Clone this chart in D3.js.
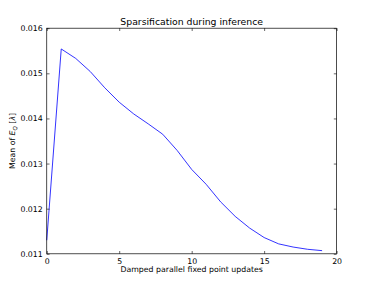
<!DOCTYPE html>
<html>
<head>
<meta charset="utf-8">
<script src="https://cdn.jsdelivr.net/npm/d3@7"></script>
<style>
  body { margin: 0; background: #fff; }
  svg { display: block; font-family: "DejaVu Sans", sans-serif; }
</style>
</head>
<body>
<svg class="container"></svg>
<script>
// values
const steps = [0, 1, 2, 3, 4, 5, 6, 7, 8, 9, 10, 11, 12, 13, 14, 15, 16, 17, 18, 19];
const meanEq = [0.01130, 0.01554, 0.01533, 0.01504, 0.01468, 0.01436, 0.01410, 0.01388, 0.01365,
  0.01329, 0.01287, 0.01254, 0.01215, 0.01183, 0.01157, 0.01136, 0.01122, 0.01115, 0.01110, 0.01107];
const xTicks = [0, 5, 10, 15, 20];
const yTicks = [0.011, 0.012, 0.013, 0.014, 0.015, 0.016];

const w = 374, h = 282;
const margin = { top: 28.2, right: 37.4, bottom: 28.2, left: 46.75 };

const svg = d3.select('.container').attr('width', w).attr('height', h);

const xScale = d3.scaleLinear().domain([0, 20]).range([margin.left, w - margin.right]);
const yScale = d3.scaleLinear().domain([0.011, 0.016]).range([h - margin.bottom, margin.top]);

const data = steps.map((s, i) => ({ x: s, y: meanEq[i] }));

// line
const lineGen = d3.line().x(d => xScale(d.x)).y(d => yScale(d.y));
svg.append('path')
  .datum(data)
  .attr('d', lineGen)
  .attr('fill', 'none')
  .attr('stroke', '#0000ff')
  .attr('stroke-width', 0.8);

// axes: ticks inside on all four sides, like old matplotlib
const tickLen = 2.8;
const fmtY = d3.format('.3f');

const axBottom = svg.append('g')
  .attr('transform', `translate(0, ${h - margin.bottom})`)
  .call(d3.axisBottom(xScale).tickValues(xTicks).tickSizeInner(-tickLen).tickSizeOuter(0).tickPadding(4.5));
const axTop = svg.append('g')
  .attr('transform', `translate(0, ${margin.top})`)
  .call(d3.axisTop(xScale).tickValues(xTicks).tickSizeInner(-tickLen).tickSizeOuter(0).tickFormat(''));
const axLeft = svg.append('g')
  .attr('transform', `translate(${margin.left}, 0)`)
  .call(d3.axisLeft(yScale).tickValues(yTicks).tickSizeInner(-tickLen).tickSizeOuter(0).tickFormat(fmtY).tickPadding(4));
const axRight = svg.append('g')
  .attr('transform', `translate(${w - margin.right}, 0)`)
  .call(d3.axisRight(yScale).tickValues(yTicks).tickSizeInner(-tickLen).tickSizeOuter(0).tickFormat(''));

[axBottom, axTop, axLeft, axRight].forEach(g => {
  g.select('.domain').remove();
  g.selectAll('line').attr('stroke', '#000').attr('stroke-width', 0.6);
  g.selectAll('text').attr('fill', '#000').style('font-size', '7.8px').style('font-family', '"DejaVu Sans", sans-serif');
});

// frame
svg.append('rect')
  .attr('x', margin.left)
  .attr('y', margin.top)
  .attr('width', w - margin.left - margin.right)
  .attr('height', h - margin.top - margin.bottom)
  .attr('fill', 'none')
  .attr('stroke', '#000')
  .attr('stroke-width', 0.7);

const cx = (margin.left + w - margin.right) / 2;

svg.append('text')
  .attr('x', cx)
  .attr('y', 24.5)
  .attr('text-anchor', 'middle')
  .style('font-size', '9.3px')
  .text('Sparsification during inference');

svg.append('text')
  .attr('x', cx)
  .attr('y', 271.5)
  .attr('text-anchor', 'middle')
  .style('font-size', '7.8px')
  .text('Damped parallel fixed point updates');

const yLab = svg.append('text')
  .attr('transform', `translate(15, ${(margin.top + h - margin.bottom) / 2}) rotate(-90)`)
  .attr('text-anchor', 'middle')
  .style('font-size', '7.8px');
yLab.append('tspan').text('Mean of ');
yLab.append('tspan').style('font-style', 'italic').text('E');
yLab.append('tspan').style('font-style', 'italic').style('font-size', '5.5px').attr('dy', 1.8).text('Q');
yLab.append('tspan').attr('dy', -1.8).text(' [');
yLab.append('tspan').style('font-style', 'italic').text('λ');
yLab.append('tspan').text(']');
</script>
</body>
</html>
